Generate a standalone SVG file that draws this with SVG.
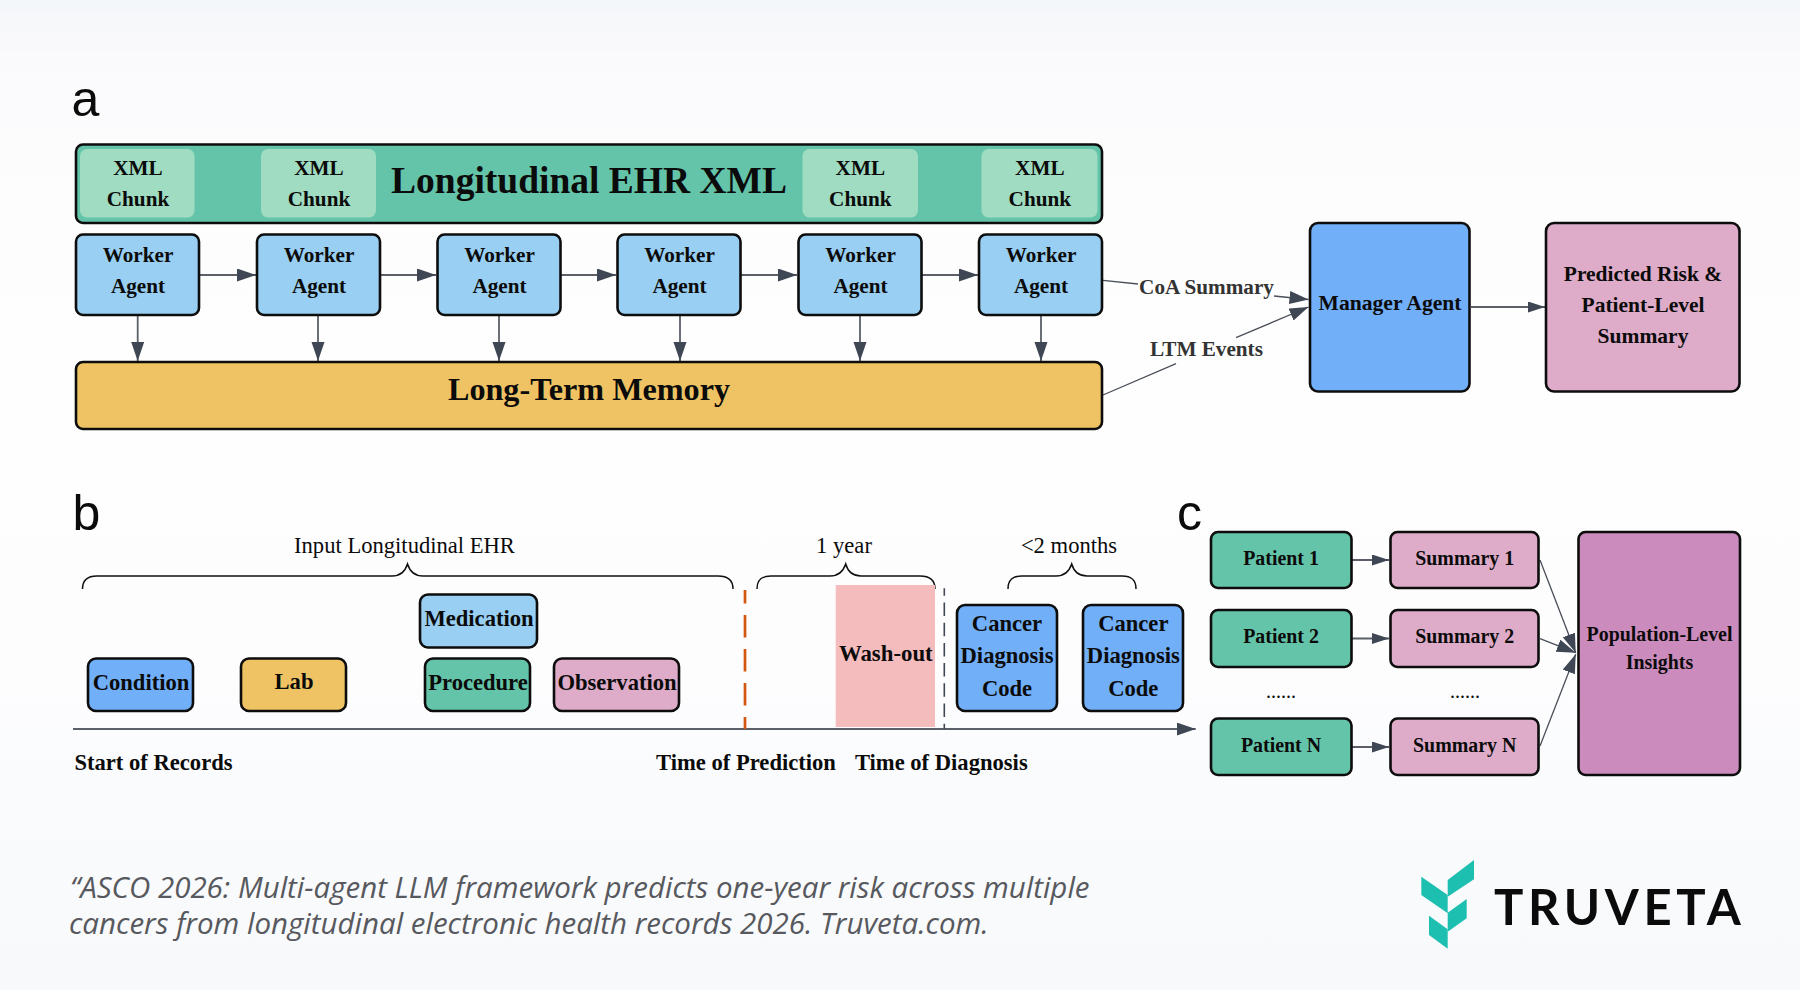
<svg xmlns="http://www.w3.org/2000/svg" width="1800" height="990" viewBox="0 0 1800 990">
<defs>
<linearGradient id="bg" x1="0" y1="0" x2="0" y2="1"><stop offset="0" stop-color="#f3f7fa"/><stop offset="0.012" stop-color="#f4f7fa"/><stop offset="0.013" stop-color="#f7f8fa"/><stop offset="0.05" stop-color="#f9f9fb"/><stop offset="0.052" stop-color="#fafafc"/><stop offset="0.2" stop-color="#fdfdfe"/><stop offset="0.4" stop-color="#fefefe"/><stop offset="0.68" stop-color="#fdfdfe"/><stop offset="0.8" stop-color="#fafbfd"/><stop offset="1" stop-color="#f8f9fb"/></linearGradient>
<marker id="ah" markerUnits="userSpaceOnUse" markerWidth="20" markerHeight="14" refX="19" refY="6.5" orient="auto"><path d="M0 0L19 6.5L0 13Z" fill="#3f4654"/></marker>
<marker id="as" markerUnits="userSpaceOnUse" markerWidth="18" markerHeight="12" refX="17" refY="5.5" orient="auto"><path d="M0 0L17 5.500L0 11Z" fill="#3f4654"/></marker>
</defs>
<style>
text{font-family:"Liberation Serif","Times New Roman",serif;fill:#0b0b0b;text-anchor:middle}
.b{font-weight:700}
.s21{font-size:21.2px}.s22{font-size:22.6px}.s20{font-size:19.9px}
.box{stroke:#0d0d0d;stroke-width:2.6}
.lab{font-family:"Liberation Sans",Arial,sans-serif;font-size:50px;text-anchor:start}
.con{fill:none;stroke:#5a5f68;stroke-width:1.8}
.thin{fill:none;stroke:#4a4f59;stroke-width:1.3}
.br{fill:none;stroke:#111;stroke-width:1.5}
.blue{fill:#98cff2}.dblue{fill:#71aff8}.green{fill:#64c4a9}.gold{fill:#efc363}.pink{fill:#deabc8}
.edge{font-size:21.2px;font-weight:700;fill:#333}
.cap{font-family:"Open Sans","Noto Sans",sans-serif;font-style:italic;font-size:29.5px;fill:#57595e;text-anchor:start}
</style>
<rect width="1800" height="990" fill="url(#bg)"/>
<text class="lab" x="71.500" y="116">a</text>
<text class="lab" x="72.500" y="530">b</text>
<text class="lab" x="1177" y="530">c</text>

<g id="connectors">
<path class="con" marker-end="url(#ah)" d="M200 275H256"/><path class="con" marker-end="url(#ah)" d="M381 275H436"/><path class="con" marker-end="url(#ah)" d="M561 275H616"/><path class="con" marker-end="url(#ah)" d="M741 275H797"/><path class="con" marker-end="url(#ah)" d="M922 275H978"/>
<path class="con" marker-end="url(#ah)" d="M137.700 316V361"/><path class="con" marker-end="url(#ah)" d="M318 316V361"/><path class="con" marker-end="url(#ah)" d="M499 316V361"/><path class="con" marker-end="url(#ah)" d="M680 316V361"/><path class="con" marker-end="url(#ah)" d="M860 316V361"/><path class="con" marker-end="url(#ah)" d="M1041 316V361"/>
<path class="con" marker-end="url(#as)" d="M1471 307H1545"/>
<path class="con" marker-end="url(#as)" d="M1352 560H1389"/><path class="con" marker-end="url(#as)" d="M1352 638.500H1389"/><path class="con" marker-end="url(#as)" d="M1352 747H1389"/>
<path class="thin" d="M1103 280.300L1138 284"/><path class="thin" marker-end="url(#ah)" d="M1274 296L1308.500 299.500"/>
<path class="thin" d="M1103 395L1176 363.700"/><path class="thin" marker-end="url(#ah)" d="M1236 337.700L1308.500 307"/>
<path class="thin" marker-end="url(#ah)" d="M1540 560L1575.700 652.700"/><path class="thin" marker-end="url(#ah)" d="M1540 638.700L1575.700 652.700"/><path class="thin" marker-end="url(#ah)" d="M1540 746L1575.700 654.300"/>
<path class="con" marker-end="url(#ah)" d="M73 729H1195.700"/>
</g>

<g id="node-ehr"><rect class="box green" x="76" y="144.500" width="1026" height="78.500" rx="7"/>
<g fill="#9fdcc1"><rect x="80" y="149" width="114.500" height="68.500" rx="7"/><rect x="261" y="149" width="115" height="68.500" rx="7"/><rect x="802.500" y="149" width="115.500" height="68.500" rx="7"/><rect x="981.500" y="149" width="116" height="68.500" rx="7"/></g>
<text class="b s21" x="138" y="175.300">XML</text><text class="b s21" x="138" y="206">Chunk</text>
<text class="b s21" x="319" y="175.300">XML</text><text class="b s21" x="319" y="206">Chunk</text>
<text class="b s21" x="860.300" y="175.300">XML</text><text class="b s21" x="860.300" y="206">Chunk</text>
<text class="b s21" x="1039.800" y="175.300">XML</text><text class="b s21" x="1039.800" y="206">Chunk</text>
<text class="b" x="589" y="192.500" font-size="37.500">Longitudinal EHR XML</text></g>
<g id="worker-1"><rect class="box blue" x="76" y="234.500" width="123" height="80.500" rx="7"/><text class="b s21" x="138" y="262">Worker</text><text class="b s21" x="138" y="293.300">Agent</text></g>
<g id="worker-2"><rect class="box blue" x="257" y="234.500" width="123" height="80.500" rx="7"/><text class="b s21" x="319" y="262">Worker</text><text class="b s21" x="319" y="293.300">Agent</text></g>
<g id="worker-3"><rect class="box blue" x="437.500" y="234.500" width="123" height="80.500" rx="7"/><text class="b s21" x="499.500" y="262">Worker</text><text class="b s21" x="499.500" y="293.300">Agent</text></g>
<g id="worker-4"><rect class="box blue" x="617.500" y="234.500" width="123" height="80.500" rx="7"/><text class="b s21" x="679.500" y="262">Worker</text><text class="b s21" x="679.500" y="293.300">Agent</text></g>
<g id="worker-5"><rect class="box blue" x="798.500" y="234.500" width="123" height="80.500" rx="7"/><text class="b s21" x="860.500" y="262">Worker</text><text class="b s21" x="860.500" y="293.300">Agent</text></g>
<g id="worker-6"><rect class="box blue" x="979" y="234.500" width="123" height="80.500" rx="7"/><text class="b s21" x="1041" y="262">Worker</text><text class="b s21" x="1041" y="293.300">Agent</text></g>
<g id="ltm"><rect class="box gold" x="76" y="362" width="1026" height="67" rx="7"/><text class="b" x="589" y="400.300" font-size="32.200">Long-Term Memory</text></g>
<text class="edge" x="1206.500" y="294">CoA Summary</text>
<text class="edge" x="1206.500" y="355.700">LTM Events</text>
<g id="manager"><rect class="box dblue" x="1310" y="223" width="159.500" height="168.500" rx="8"/><text class="b s21" x="1390" y="310" style="font-size:21.600px">Manager Agent</text></g>
<g id="predicted"><rect class="box pink" x="1546" y="223" width="193.500" height="168.500" rx="8"/><text class="b s21" x="1643" y="280.700" style="font-size:21.500px">Predicted Risk &amp;</text><text class="b s21" x="1643" y="312" style="font-size:21.500px">Patient-Level</text><text class="b s21" x="1643" y="342.700" style="font-size:21.500px">Summary</text></g>

<text class="s22" x="404.500" y="553">Input Longitudinal EHR</text>
<text class="s22" x="844" y="553">1 year</text>
<text class="s22" x="1069" y="553">&lt;2 months</text>
<path class="br" d="M82.500 589C82.500 580 87 576 97 576H392C400 576 405 572 407.500 564C410 572 415 576 423 576H718C728 576 733 580 733 589"/>
<path class="br" d="M757 589C757 580 761 576 771 576H830C838 576 843 572 845.700 564C848 572 853 576 861 576H920C930 576 935 580 935 589"/>
<path class="br" d="M1008 589C1008 580 1012 576 1022 576H1056C1064 576 1069 572 1071.700 564C1074 572 1079 576 1087 576H1122C1132 576 1136 580 1136 589"/>
<rect x="835.700" y="585" width="99.300" height="142" fill="#f4bcbd"/>
<path d="M745 590V729" fill="none" stroke="#d4570f" stroke-width="2.700" stroke-dasharray="22.400 11.600" stroke-dashoffset="9"/>
<path d="M944.300 588.300V729" fill="none" stroke="#3f4754" stroke-width="1.600" stroke-dasharray="13.500 6.700" stroke-dashoffset="6"/>
<text class="b" x="885.800" y="661" font-size="22.800">Wash-out</text>
<g id="condition"><rect class="box dblue" x="88" y="658.500" width="105" height="52.500" rx="8"/><text class="b s22" x="141" y="690">Condition</text></g>
<g id="lab"><rect class="box gold" x="241" y="658.500" width="105" height="52.500" rx="8"/><text class="b s22" x="294" y="689">Lab</text></g>
<g id="medication"><rect class="box blue" x="420" y="594.500" width="117" height="53" rx="8"/><text class="b s22" x="479" y="626">Medication</text></g>
<g id="procedure"><rect class="box green" x="425" y="658.500" width="105" height="52.500" rx="8"/><text class="b s22" x="478" y="690">Procedure</text></g>
<g id="observation"><rect class="box pink" x="554" y="658.500" width="125" height="52.500" rx="8"/><text class="b s22" x="617" y="690">Observation</text></g>
<g id="cancer-1"><rect class="box dblue" x="957" y="605" width="100" height="106" rx="8"/><text class="b s22" x="1007" y="630.700">Cancer</text><text class="b s22" x="1007" y="663">Diagnosis</text><text class="b s22" x="1007" y="696">Code</text></g>
<g id="cancer-2"><rect class="box dblue" x="1083" y="605" width="100" height="106" rx="8"/><text class="b s22" x="1133.300" y="630.700">Cancer</text><text class="b s22" x="1133.300" y="663">Diagnosis</text><text class="b s22" x="1133.300" y="696">Code</text></g>
<text class="b s22" x="153.500" y="770">Start of Records</text>
<text class="b s22" x="746" y="770">Time of Prediction</text>
<text class="b s22" x="941.300" y="770">Time of Diagnosis</text>

<g id="patient-1"><rect class="box green" x="1211" y="532" width="140.500" height="56" rx="7"/><text class="b s20" x="1281" y="565">Patient 1</text></g>
<g id="patient-2"><rect class="box green" x="1211" y="610" width="140.500" height="57" rx="7"/><text class="b s20" x="1281" y="643">Patient 2</text></g>
<g id="patient-n"><rect class="box green" x="1211" y="718.500" width="140.500" height="56.500" rx="7"/><text class="b s20" x="1281" y="751.700">Patient N</text></g>
<g id="summary-1"><rect class="box pink" x="1390.500" y="532" width="148" height="56" rx="7"/><text class="b s20" x="1464.700" y="565">Summary 1</text></g>
<g id="summary-2"><rect class="box pink" x="1390.500" y="610" width="148" height="57" rx="7"/><text class="b s20" x="1464.700" y="643">Summary 2</text></g>
<g id="summary-n"><rect class="box pink" x="1390.500" y="718.500" width="148" height="56.500" rx="7"/><text class="b s20" x="1464.700" y="751.700">Summary N</text></g>
<text font-size="20" x="1281" y="698">......</text>
<text font-size="20" x="1465" y="698">......</text>
<g id="population"><rect class="box" fill="#cb8bbc" x="1578.500" y="532" width="161.500" height="243" rx="7"/><text class="b s20" x="1659.500" y="640.500">Population-Level</text><text class="b s20" x="1659.500" y="669.300">Insights</text></g>

<g id="logo" fill="#1dbfb0"><polygon points="1474,860 1474,879.300 1447.700,896.700 1447.700,880"/><polygon points="1421.300,876.700 1447.700,895 1447.700,913.300 1421.300,895"/><polygon points="1466.700,899 1466.700,918.300 1447.700,931.700 1447.700,912.700"/><polygon points="1429,915.700 1447.700,929.300 1447.700,948.700 1429,935"/></g>
<text x="1494" y="924.700" style="font-family:Lato,sans-serif;font-weight:700;font-size:49px;letter-spacing:4.600px;text-anchor:start;fill:#0b0b0b">TRUVETA</text>
<text class="cap"><tspan x="70" y="898.300">“ASCO 2026: Multi-agent LLM framework predicts one-year risk across multiple</tspan><tspan x="69" y="933.500">cancers from longitudinal electronic health records 2026. Truveta.com.</tspan></text>
</svg>
